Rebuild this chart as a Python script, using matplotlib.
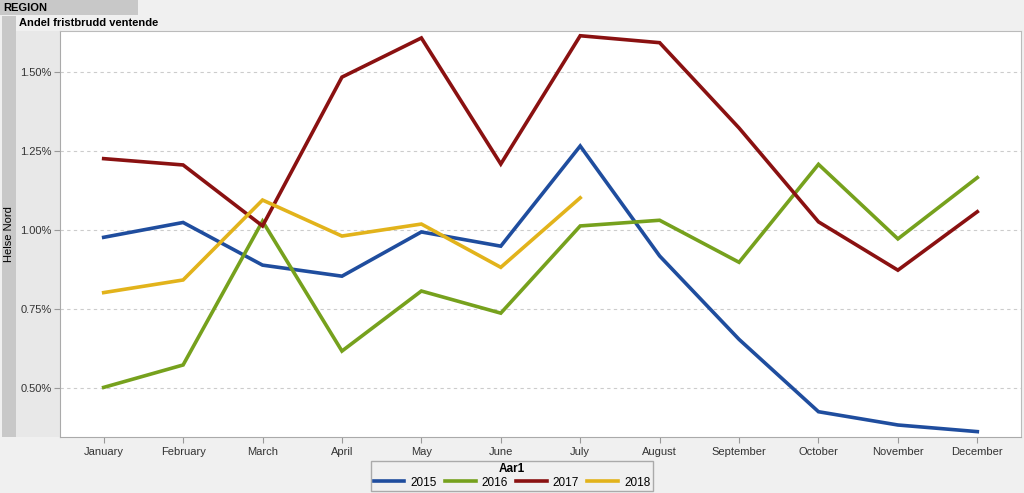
import matplotlib.pyplot as plt
from matplotlib.patches import Rectangle
from matplotlib.ticker import FuncFormatter

plt.rcParams['font.family'] = ['Liberation Sans', 'DejaVu Sans']

months = ['January', 'February', 'March', 'April', 'May', 'June', 'July',
          'August', 'September', 'October', 'November', 'December']

# values are percent
y2015 = [0.977, 1.024, 0.889, 0.854, 0.994, 0.949, 1.266, 0.918, 0.654, 0.425, 0.383, 0.362]
y2016 = [0.502, 0.573, 1.028, 0.617, 0.807, 0.737, 1.013, 1.031, 0.898, 1.208, 0.972, 1.166]
y2017 = [1.226, 1.206, 1.013, 1.484, 1.608, 1.209, 1.615, 1.593, 1.323, 1.026, 0.873, 1.058]
y2018 = [0.802, 0.842, 1.095, 0.981, 1.019, 0.882, 1.102]

series = [('2015', y2015, '#1f4d9e'),
          ('2016', y2016, '#76a11d'),
          ('2017', y2017, '#8a1111'),
          ('2018', y2018, '#e2b31b')]

W, H = 1024, 493
fig = plt.figure(figsize=(W / 100, H / 100), dpi=100, facecolor='#f0f0f0')


def strip(x0, y0, w, h, col):
    # box in pixel coords from top-left
    fig.patches.append(Rectangle((x0 / W, 1 - (y0 + h) / H), w / W, h / H,
                                 transform=fig.transFigure, facecolor=col,
                                 edgecolor='none', zorder=-5))


strip(0, 0, 138, 15, '#c8c8c8')
strip(2, 16, 14, 421, '#c8c8c8')
strip(16, 31, 44, 406, '#e8e8e8')
fig.text(3 / W, 1 - 8 / H, 'REGION', fontsize=8, fontweight='bold', va='center', ha='left')
fig.text(19 / W, 1 - 23 / H, 'Andel fristbrudd ventende', fontsize=8, fontweight='bold',
         va='center', ha='left')
fig.text(9 / W, (H - 234) / H, 'Helse Nord', fontsize=8, rotation=90, va='center', ha='center')

ax = fig.add_axes([60 / W, (H - 437) / H, (1021 - 60) / W, (437 - 31) / H])
ax.set_facecolor('white')

x = list(range(len(months)))
for name, vals, col in series:
    ax.plot(x[:len(vals)], vals, color=col, lw=2.6, label=name, solid_joinstyle='miter')

ax.set_xlim(-0.55, 11.55)
ax.set_ylim(0.345, 1.63)
ax.set_xticks(x)
ax.set_xticklabels(months)
ax.set_yticks([0.5, 0.75, 1.0, 1.25, 1.5])
ax.yaxis.set_major_formatter(FuncFormatter(lambda v, p: f'{v:.2f}%'))
ax.grid(axis='y', color='#cccccc', ls=(0, (3, 3)), lw=0.8)
ax.tick_params(colors='#999999', labelcolor='#333333', labelsize=8, length=4, width=0.8)
ax.tick_params(axis='x', pad=3)
ax.tick_params(axis='y', pad=2)
for side in ['top', 'right']:
    ax.spines[side].set_color('#bbbbbb')
for side in ['left', 'bottom']:
    ax.spines[side].set_color('#aaaaaa')

handles, labels = ax.get_legend_handles_labels()
leg = fig.legend(handles, labels, title='Aar1', loc='upper center',
                 bbox_to_anchor=(512 / W, (H - 461) / H), ncol=4, borderaxespad=0,
                 frameon=True, fontsize=8.5, handlelength=2.6, columnspacing=0.7,
                 handletextpad=0.5, borderpad=0.2, labelspacing=0.1,
                 fancybox=False, edgecolor='#999999')
leg.get_frame().set_facecolor('#f0f0f0')
leg.get_title().set_fontweight('bold')
leg.get_title().set_fontsize(8.5)

fig.savefig('out.png', dpi=100, facecolor=fig.get_facecolor())
